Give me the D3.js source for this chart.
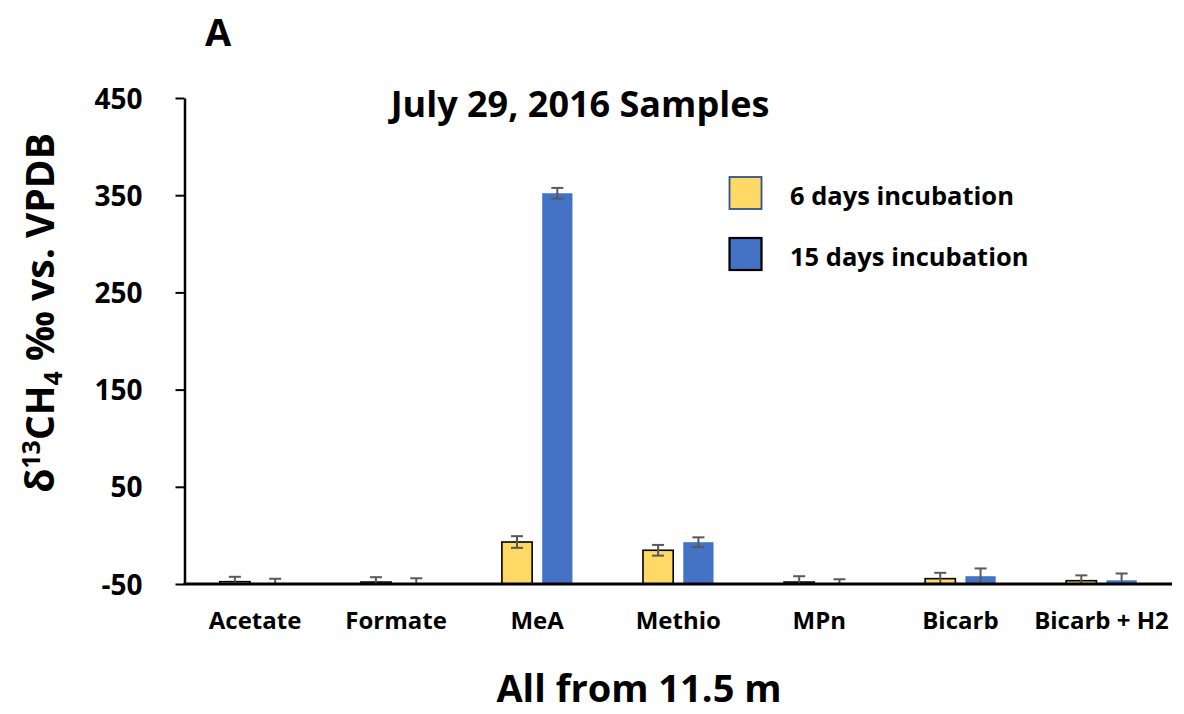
<!DOCTYPE html>
<html>
<head>
<meta charset="utf-8">
<script src="https://cdn.jsdelivr.net/npm/d3@7"></script>
<style>
  html, body { margin: 0; padding: 0; background: #fff; }
  svg text { font-family: "Open Sans", "Liberation Sans", sans-serif; font-weight: 700; fill: #000; }
</style>
</head>
<body>
<svg id="chart" width="1184" height="714"></svg>
<script>
// ---- data ----
const categories = ["Acetate", "Formate", "MeA", "Methio", "MPn", "Bicarb", "Bicarb + H2"];
const seriesNames = ["6 days incubation", "15 days incubation"];
const days6Values = [-47.6, -48, -6.8, -15.3, -48, -44.5, -46.6];
const days6Errors = [5, 5, 6, 5.5, 6, 6, 5.5];
const days15Values = [-49.6, -49.6, 352, -7, -49.6, -42, -46.2];
const days15Errors = [5, 5.5, 5.5, 5, 4.5, 8, 7];
const yTicks = [-50, 50, 150, 250, 350, 450];

const colors = ["#FFD966", "#4472C4"];

const svg = d3.select("#chart");
const margin = { left: 184.5, right: 1172, top: 98, bottom: 584 };

const x = d3.scaleBand().domain(categories).range([margin.left, margin.right]).paddingInner(0.5).paddingOuter(0.25);
const x1 = d3.scaleBand().domain(seriesNames).range([0, x.bandwidth()]).paddingInner(0.25);
const y = d3.scaleLinear().domain([-50, 450]).range([margin.bottom, margin.top]);

const series = [
  { name: seriesNames[0], values: days6Values, errors: days6Errors, color: colors[0] },
  { name: seriesNames[1], values: days15Values, errors: days15Errors, color: colors[1] }
];

// bars
series.forEach((s, si) => {
  const g = svg.append("g");
  g.selectAll("rect").data(categories).join("rect")
    .attr("x", c => x(c) + x1(s.name))
    .attr("width", x1.bandwidth())
    .attr("y", (c, i) => y(s.values[i]))
    .attr("height", (c, i) => y(-50) - y(s.values[i]))
    .attr("fill", s.color)
    .attr("stroke", si === 0 ? "#000" : "none")
    .attr("stroke-width", si === 0 ? 1.6 : 0);
});

// error bars
series.forEach((s) => {
  const g = svg.append("g").attr("stroke", "#595959").attr("stroke-width", 2);
  categories.forEach((c, i) => {
    const cx = x(c) + x1(s.name) + x1.bandwidth() / 2;
    const top = y(s.values[i] + s.errors[i]);
    const bot = y(Math.max(-50, s.values[i] - s.errors[i]));
    g.append("line").attr("x1", cx).attr("x2", cx).attr("y1", top).attr("y2", bot);
    g.append("line").attr("x1", cx - 6).attr("x2", cx + 6).attr("y1", top).attr("y2", top);
    if (s.values[i] - s.errors[i] > -50) {
      g.append("line").attr("x1", cx - 6).attr("x2", cx + 6).attr("y1", bot).attr("y2", bot);
    }
  });
});

// y axis
const yAxis = svg.append("g").attr("transform", `translate(${margin.left},0)`)
  .call(d3.axisLeft(y).tickValues(yTicks).tickFormat(d => String(d)).tickSize(9).tickPadding(33).tickSizeOuter(0));
yAxis.select(".domain").attr("stroke", "#000").attr("stroke-width", 2.5);
yAxis.selectAll(".tick line").attr("stroke", "#000").attr("stroke-width", 2);
yAxis.selectAll(".tick text").attr("font-size", 28).attr("dy", "0.36em");

// x axis
const xAxis = svg.append("g").attr("transform", `translate(0,${margin.bottom})`)
  .call(d3.axisBottom(x).tickSize(0).tickPadding(28).tickSizeOuter(0));
xAxis.select(".domain").attr("stroke", "#000").attr("stroke-width", 3).attr("d", `M${margin.left - 1},0H${margin.right}`);
xAxis.selectAll(".tick text").attr("font-size", 24);

// titles
svg.append("text").attr("x", 205).attr("y", 46).attr("font-size", 38).text("A");
svg.append("text").attr("x", 580).attr("y", 117).attr("text-anchor", "middle").attr("font-size", 36).text("July 29, 2016 Samples");
svg.append("text").attr("x", 639).attr("y", 702).attr("text-anchor", "middle").attr("font-size", 38).text("All from 11.5 m");

const yt = svg.append("text").attr("transform", "translate(54,313) rotate(-90)").attr("text-anchor", "middle").attr("font-size", 39);
yt.append("tspan").text("δ");
yt.append("tspan").attr("font-size", 25).attr("dy", -14).text("13");
yt.append("tspan").attr("dy", 14).text("CH");
yt.append("tspan").attr("font-size", 25).attr("dy", 8).text("4");
yt.append("tspan").attr("dy", -8).text(" ‰ vs. VPDB");

// legend
const legend = svg.append("g");
seriesNames.forEach((name, i) => {
  const ly = 177 + i * 61;
  legend.append("rect").attr("x", 729.5).attr("y", ly).attr("width", 32).attr("height", 32)
    .attr("fill", colors[i]).attr("stroke", i === 0 ? "#2F528F" : "#000").attr("stroke-width", i === 0 ? 1.8 : 2.2);
  legend.append("text").attr("x", 790).attr("y", ly + 28).attr("font-size", 25.5).text(name);
});
</script>
</body>
</html>
